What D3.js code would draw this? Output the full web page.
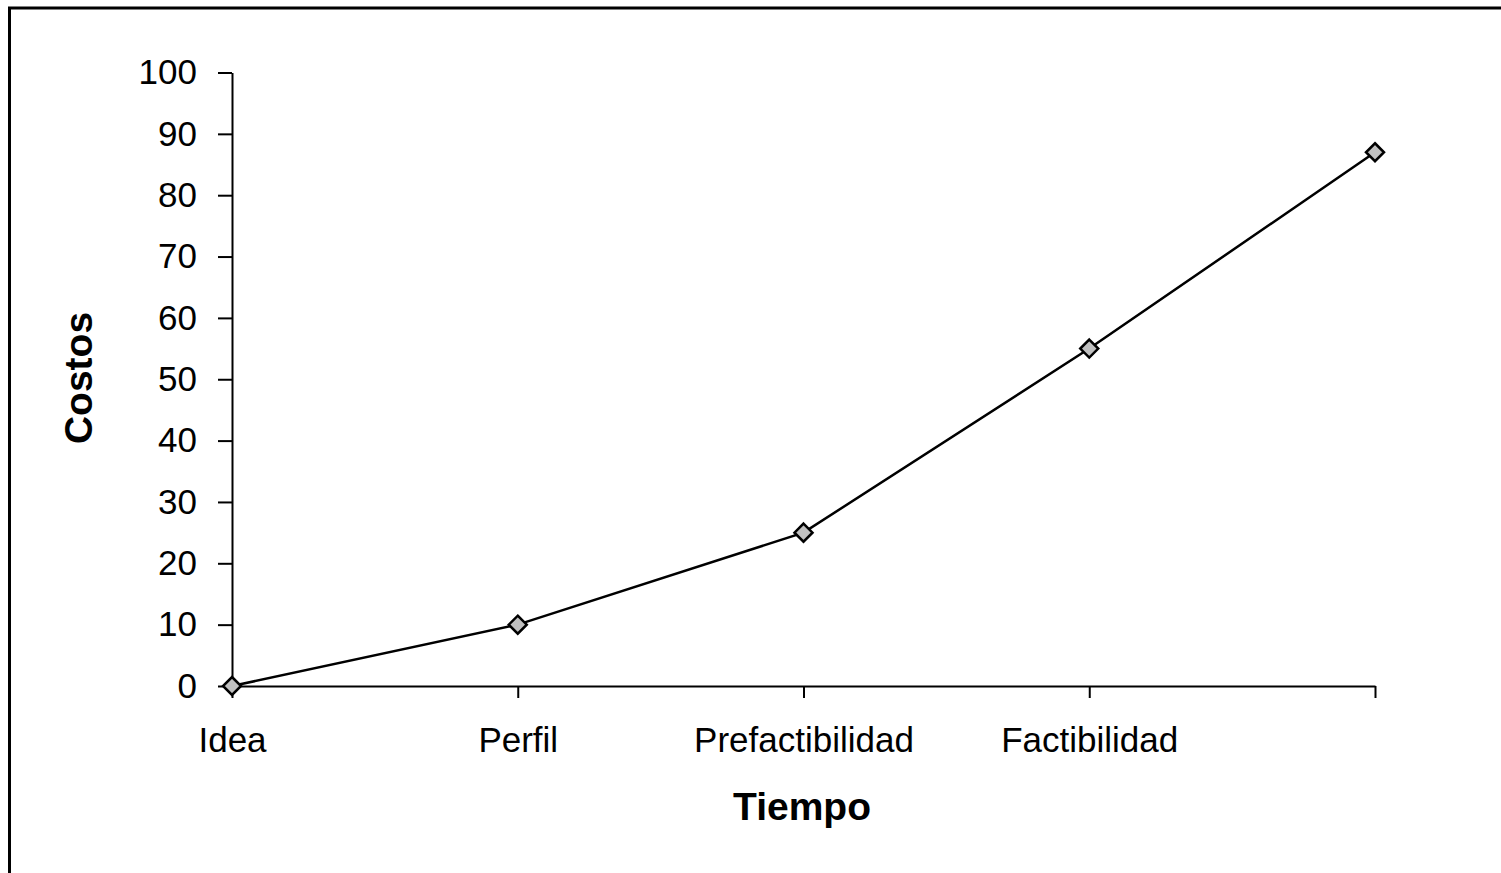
<!DOCTYPE html>
<html>
<head>
<meta charset="utf-8">
<script src="https://cdn.jsdelivr.net/npm/d3@7"></script>
<style>
  html, body { margin: 0; padding: 0; background: #fff; }
  svg { display: block; }
  .axis text { font-family: "Liberation Sans", Arial, sans-serif; font-size: 35px; fill: #000; }
  .axis path, .axis line { stroke: #000; stroke-width: 2px; }
  .title { font-family: "Liberation Sans", Arial, sans-serif; font-weight: bold; font-size: 39px; fill: #000; }
</style>
</head>
<body>
<svg id="chart"></svg>
<script>
// data
const categories = ['Idea', 'Perfil', 'Prefactibilidad', 'Factibilidad', ''];
const costos = [0, 10, 25, 55, 87];
const yTicks = [0, 10, 20, 30, 40, 50, 60, 70, 80, 90, 100];

const width = 1501, height = 873;
const plot = {left: 232, right: 1375, top: 72.5, bottom: 686};

const svg = d3.select('#chart').attr('width', width).attr('height', height);

// outer frame (right and bottom edges fall outside the picture)
svg.append('rect')
  .attr('x', 9.5).attr('y', 8)
  .attr('width', width + 20).attr('height', height + 20)
  .attr('fill', 'none').attr('stroke', '#000').attr('stroke-width', 3);

const x = d3.scalePoint().domain(d3.range(categories.length)).range([plot.left, plot.right]);
const y = d3.scaleLinear().domain([0, 100]).range([plot.bottom, plot.top]);

const xAxis = svg.append('g').attr('class', 'axis')
  .attr('transform', `translate(0,${plot.bottom})`)
  .call(d3.axisBottom(x).tickSize(12).tickSizeOuter(0).tickFormat(i => categories[i]));
xAxis.selectAll('text').attr('y', 41).attr('dy', '0.71em');

const yAxis = svg.append('g').attr('class', 'axis')
  .attr('transform', `translate(${plot.left},0)`)
  .call(d3.axisLeft(y).tickValues(yTicks).tickSize(14).tickSizeOuter(0).tickPadding(21));

// series line
const line = d3.line().x((d, i) => x(i)).y(d => y(d));
svg.append('path')
  .datum(costos)
  .attr('d', line)
  .attr('fill', 'none').attr('stroke', '#000').attr('stroke-width', 2.5);

// diamond markers
svg.selectAll('.marker')
  .data(costos)
  .enter().append('path')
  .attr('class', 'marker')
  .attr('transform', (d, i) => `translate(${x(i)},${y(d)})`)
  .attr('d', 'M0,-9L9,0L0,9L-9,0Z')
  .attr('fill', '#c0c0c0').attr('stroke', '#000').attr('stroke-width', 2.5);

// axis titles
svg.append('text').attr('class', 'title')
  .attr('x', 802).attr('y', 820)
  .attr('text-anchor', 'middle')
  .text('Tiempo');

svg.append('text').attr('class', 'title')
  .attr('transform', 'translate(92,378) rotate(-90)')
  .attr('text-anchor', 'middle')
  .text('Costos');
</script>
</body>
</html>
